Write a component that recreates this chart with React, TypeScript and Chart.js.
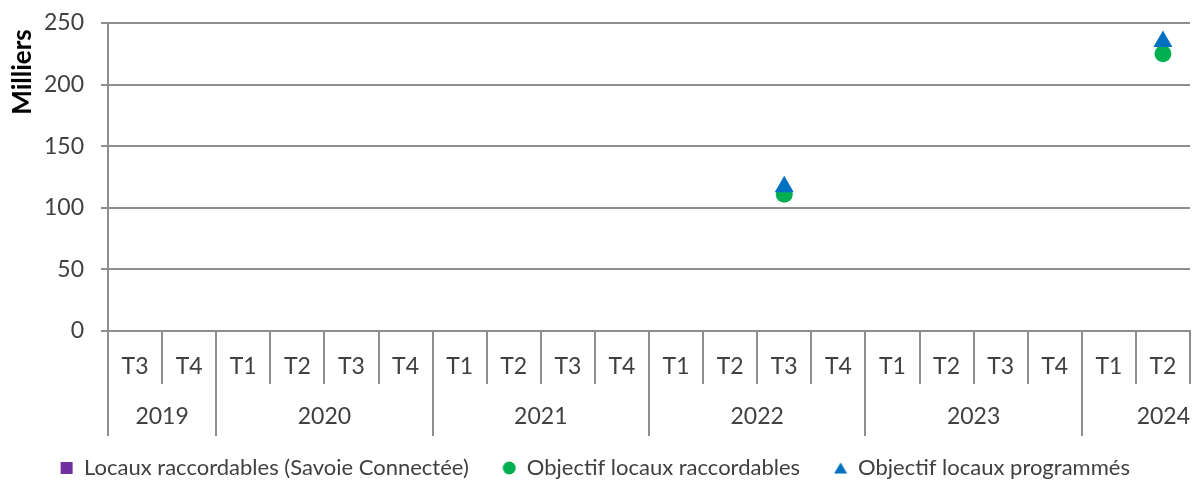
import React, { useEffect, useRef } from 'react';
import { Chart, registerables } from 'chart.js';

Chart.register(...registerables);

const quarterLabels = ['T3', 'T4', 'T1', 'T2', 'T3', 'T4', 'T1', 'T2', 'T3', 'T4', 'T1', 'T2', 'T3', 'T4', 'T1', 'T2', 'T3', 'T4', 'T1', 'T2'];
const yearLabels = ['2019', '2020', '2021', '2022', '2023', '2024'];
const yearCounts = [2, 4, 4, 4, 4, 2];

const locauxRaccordables = [null, null, null, null, null, null, null, null, null, null, null, null, null, null, null, null, null, null, null, null];
const objectifRaccordables = [null, null, null, null, null, null, null, null, null, null, null, null, 111, null, null, null, null, null, null, 225];
const objectifProgrammes = [null, null, null, null, null, null, null, null, null, null, null, null, 117, null, null, null, null, null, null, 235];

const seriesNames = ['Locaux raccordables (Savoie Connectée)', 'Objectif locaux raccordables', 'Objectif locaux programmés'];
const seriesColors = ['#7030A0', '#00B050', '#0070C0'];
const seriesStyles = ['rect', 'circle', 'triangle'];
const yAxisTitle = 'Milliers';

const FONT = 'Lato, "Open Sans", sans-serif';
const TEXT = '#404040';
const GRID = '#8e8e8e';
const W = 1204;
const H = 482;
const PLOT_BOTTOM = 331;
const LEGEND_Y = 468;
const LEGEND_PAD = 34;
const LEGEND_FONT = 22;
const AXIS_FONT = 23;

function legendMarker(style: string, color: string): HTMLCanvasElement {
  const c = document.createElement('canvas');
  const s = 14;
  c.width = s;
  c.height = s;
  const g = c.getContext('2d')!;
  g.fillStyle = color;
  if (style === 'rect') {
    g.fillRect(1, 1, 12, 12);
  } else if (style === 'circle') {
    g.beginPath();
    g.arc(7, 7, 6.5, 0, Math.PI * 2);
    g.fill();
  } else {
    g.beginPath();
    g.moveTo(7, 1.5);
    g.lineTo(13.5, 12.5);
    g.lineTo(0.5, 12.5);
    g.closePath();
    g.fill();
  }
  return c;
}

const multiLevelPlugin = {
  id: 'multiLevel',
  afterLayout(chart: any) {
    const lg = chart.legend;
    if (!lg) return;
    const top = LEGEND_Y - LEGEND_PAD - LEGEND_FONT / 2;
    const h = lg.height;
    lg.top = top;
    lg.bottom = top + h;
  },
  afterDraw(chart: any) {
    const { ctx, chartArea } = chart;
    const xs = chart.scales.x;
    const n = quarterLabels.length;
    const w = (chartArea.right - chartArea.left) / n;
    const bottom = chartArea.bottom;
    const qBottom = bottom + 53;
    const yBottom = bottom + 105;
    const yearStarts = new Set<number>();
    let acc = 0;
    yearCounts.forEach((c) => { yearStarts.add(acc); acc += c; });

    ctx.save();
    ctx.strokeStyle = GRID;
    ctx.lineWidth = 2;
    for (let i = 0; i <= n; i++) {
      const x = Math.round(xs.getPixelForValue(Math.min(i, n - 1)) + (i === n ? w / 2 : -w / 2));
      ctx.beginPath();
      ctx.moveTo(x, bottom);
      ctx.lineTo(x, yearStarts.has(i) ? yBottom : qBottom);
      ctx.stroke();
    }

    ctx.fillStyle = TEXT;
    ctx.font = `${AXIS_FONT}px ${FONT}`;
    ctx.textAlign = 'center';
    ctx.textBaseline = 'middle';
    quarterLabels.forEach((q, i) => {
      ctx.fillText(q, xs.getPixelForValue(i), bottom + 36);
    });
    let start = 0;
    yearLabels.forEach((y, k) => {
      const c = yearCounts[k];
      const x0 = xs.getPixelForValue(start) - w / 2;
      const x1 = xs.getPixelForValue(start + c - 1) + w / 2;
      if (k === yearLabels.length - 1) {
        ctx.textAlign = 'right';
        ctx.fillText(y, x1, bottom + 86);
        ctx.textAlign = 'center';
      } else {
        ctx.fillText(y, (x0 + x1) / 2, bottom + 86);
      }
      start += c;
    });

    ctx.save();
    ctx.translate(23, 72);
    ctx.rotate(-Math.PI / 2);
    ctx.font = `bold 26px ${FONT}`;
    ctx.fillStyle = '#000';
    ctx.fillText(yAxisTitle, 0, 0);
    ctx.restore();
    ctx.restore();
  },
};

export default function App() {
  const ref = useRef<HTMLCanvasElement | null>(null);

  useEffect(() => {
    if (!ref.current) return;
    const markers = seriesStyles.map((s, i) => legendMarker(s, seriesColors[i]));
    const chart = new Chart(ref.current, {
      type: 'line',
      data: {
        labels: quarterLabels.map((q, i) => `${i}-${q}`),
        datasets: [
          {
            label: seriesNames[0],
            data: locauxRaccordables,
            showLine: false,
            pointStyle: seriesStyles[0] as any,
            backgroundColor: seriesColors[0],
            borderColor: seriesColors[0],
            pointRadius: 7,
            pointBorderWidth: 0,
            order: 2,
          },
          {
            label: seriesNames[1],
            data: objectifRaccordables,
            showLine: false,
            pointStyle: seriesStyles[1] as any,
            backgroundColor: seriesColors[1],
            borderColor: seriesColors[1],
            pointRadius: 8.5,
            pointBorderWidth: 0,
            order: 1,
          },
          {
            label: seriesNames[2],
            data: objectifProgrammes,
            showLine: false,
            pointStyle: seriesStyles[2] as any,
            backgroundColor: seriesColors[2],
            borderColor: seriesColors[2],
            pointRadius: 11,
            pointBorderWidth: 0,
            order: 0,
          },
        ],
      },
      options: {
        animation: false,
        responsive: false,
        maintainAspectRatio: false,
        layout: { padding: { top: 23, right: 14, left: 0, bottom: 0 } },
        plugins: {
          tooltip: { enabled: false },
          legend: {
            position: 'bottom',
            labels: {
              usePointStyle: true,
              boxWidth: 13,
              boxHeight: 13,
              padding: LEGEND_PAD,
              color: TEXT,
              font: { family: FONT, size: LEGEND_FONT },
              sort: (a: any, b: any) => a.datasetIndex - b.datasetIndex,
              generateLabels: (ch: any) => {
                const items = (Chart as any).defaults.plugins.legend.labels.generateLabels(ch);
                items.forEach((it: any) => { it.pointStyle = markers[it.datasetIndex]; });
                return items;
              },
            },
          },
        },
        scales: {
          x: {
            type: 'category',
            offset: true,
            grid: { display: false },
            border: { display: true, color: GRID, width: 2 },
            ticks: { display: false },
            afterFit: (s: any) => {
              const lgH = s.chart.legend ? s.chart.legend.height : 0;
              s.height = Math.max(0, H - lgH - PLOT_BOTTOM);
              s.paddingLeft = 0;
              s.paddingRight = 0;
            },
          },
          y: {
            min: 0,
            max: 250,
            ticks: {
              stepSize: 50,
              color: TEXT,
              padding: 17,
              font: { family: FONT, size: AXIS_FONT },
            },
            grid: { color: GRID, lineWidth: 2, tickLength: 7 },
            border: { display: true, color: GRID, width: 2 },
            afterFit: (s: any) => {
              s.width = 108;
              s.paddingTop = 0;
              s.paddingBottom = 0;
            },
          },
        },
      },
      plugins: [multiLevelPlugin],
    });
    return () => chart.destroy();
  }, []);

  return (
    <div style={{ position: 'fixed', left: 0, top: 0, width: W, height: H, background: '#fff' }}>
      <canvas ref={ref} width={W} height={H} style={{ width: W, height: H, display: 'block' }} />
    </div>
  );
}
